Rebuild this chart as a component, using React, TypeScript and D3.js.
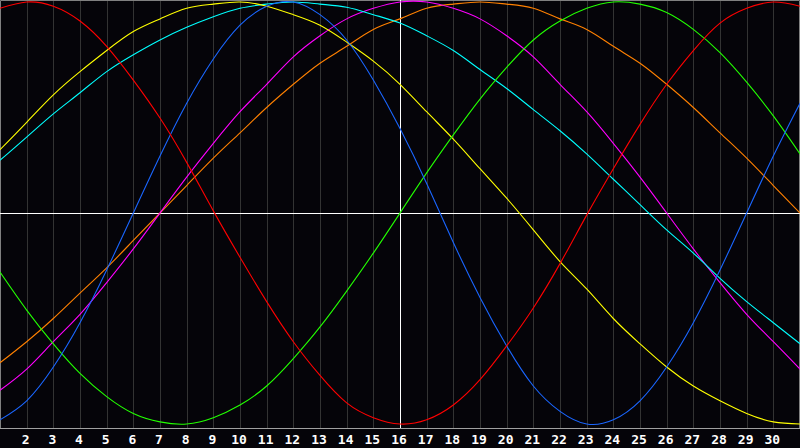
import React, { useEffect, useRef } from "react";
import * as d3 from "d3";

const days = d3.range(1, 32);
const tickDays = d3.range(2, 31);
const today = 16;

const red = [0.97, 1.0, 0.98, 0.91, 0.79, 0.63, 0.45, 0.24, 0.01, -0.21, -0.42, -0.61, -0.77, -0.9, -0.97, -1.0, -0.98, -0.91, -0.79, -0.63, -0.45, -0.24, -0.01, 0.21, 0.42, 0.61, 0.77, 0.9, 0.97, 1.0, 0.98];
const blue = [-0.98, -0.89, -0.73, -0.52, -0.27, 0.0, 0.27, 0.52, 0.73, 0.89, 0.98, 1.0, 0.94, 0.82, 0.63, 0.4, 0.14, -0.14, -0.4, -0.63, -0.82, -0.94, -1.0, -0.98, -0.89, -0.73, -0.52, -0.27, 0.0, 0.27, 0.52];
const green = [-0.28, -0.46, -0.62, -0.76, -0.87, -0.95, -0.99, -1.0, -0.97, -0.91, -0.82, -0.69, -0.54, -0.37, -0.19, 0.0, 0.19, 0.37, 0.54, 0.69, 0.82, 0.91, 0.97, 1.0, 0.99, 0.95, 0.87, 0.76, 0.62, 0.46, 0.28];
const yellow = [0.3, 0.43, 0.56, 0.67, 0.77, 0.86, 0.92, 0.97, 0.99, 1.0, 0.98, 0.94, 0.89, 0.81, 0.72, 0.61, 0.48, 0.35, 0.21, 0.07, -0.08, -0.23, -0.36, -0.5, -0.62, -0.73, -0.82, -0.89, -0.95, -0.99, -1.0];
const cyan = [0.25, 0.36, 0.47, 0.57, 0.67, 0.75, 0.82, 0.88, 0.93, 0.97, 0.99, 1.0, 0.99, 0.975, 0.94, 0.9, 0.84, 0.77, 0.68, 0.59, 0.49, 0.39, 0.28, 0.16, 0.04, -0.08, -0.19, -0.31, -0.42, -0.52, -0.62];
const magenta = [-0.84, -0.74, -0.61, -0.48, -0.33, -0.17, 0.0, 0.17, 0.33, 0.48, 0.61, 0.74, 0.84, 0.92, 0.97, 1.0, 1.0, 0.97, 0.92, 0.84, 0.74, 0.61, 0.48, 0.33, 0.17, 0.0, -0.17, -0.33, -0.48, -0.61, -0.74];
const orange = [-0.71, -0.61, -0.5, -0.38, -0.26, -0.13, 0.0, 0.13, 0.26, 0.38, 0.5, 0.61, 0.71, 0.79, 0.87, 0.92, 0.97, 0.99, 1.0, 0.99, 0.97, 0.92, 0.87, 0.79, 0.71, 0.61, 0.5, 0.38, 0.26, 0.13, 0.0];

const series = [
  { values: orange, color: "#ff8000" },
  { values: magenta, color: "#ff00ff" },
  { values: cyan, color: "#00ffff" },
  { values: yellow, color: "#ffff00" },
  { values: green, color: "#22ff00" },
  { values: blue, color: "#1a66ff" },
  { values: red, color: "#ff0000" },
];

const W = 800;
const H = 448;
const plotBottom = 428;

function App() {
  const ref = useRef<SVGSVGElement>(null);

  useEffect(() => {
    const svg = d3.select(ref.current);
    svg.selectAll("*").remove();

    const x = d3.scaleLinear().domain([1, 31]).range([0, W]);
    const y = d3.scaleLinear().domain([-1, 1]).range([424, 2]);

    svg
      .append("rect")
      .attr("width", W)
      .attr("height", H)
      .attr("fill", "#050409");

    // day grid
    svg
      .append("g")
      .selectAll("line")
      .data(tickDays)
      .join("line")
      .attr("x1", (d) => Math.round(x(d)) + 0.5)
      .attr("x2", (d) => Math.round(x(d)) + 0.5)
      .attr("y1", 0)
      .attr("y2", plotBottom)
      .attr("stroke", "#333333")
      .attr("stroke-width", 1);

    // frame
    svg
      .append("path")
      .attr("d", `M0.5,${plotBottom} V0.5 H${W - 0.5} V${plotBottom}`)
      .attr("fill", "none")
      .attr("stroke", "#808080");

    // zero line and today
    svg
      .append("line")
      .attr("x1", 0)
      .attr("x2", W)
      .attr("y1", Math.round(y(0)) + 0.5)
      .attr("y2", Math.round(y(0)) + 0.5)
      .attr("stroke", "#ffffff");
    svg
      .append("line")
      .attr("x1", Math.round(x(today)) + 0.5)
      .attr("x2", Math.round(x(today)) + 0.5)
      .attr("y1", 0)
      .attr("y2", plotBottom)
      .attr("stroke", "#ffffff");

    const line = d3
      .line<number>()
      .x((_, i) => x(days[i]))
      .y((d) => y(d))
      .curve(d3.curveNatural);

    svg
      .append("g")
      .selectAll("path")
      .data(series)
      .join("path")
      .attr("d", (s) => line(s.values))
      .attr("fill", "none")
      .attr("stroke", (s) => s.color)
      .attr("stroke-width", 1.1);

    // bottom axis
    svg
      .append("line")
      .attr("x1", 0)
      .attr("x2", W)
      .attr("y1", plotBottom + 0.5)
      .attr("y2", plotBottom + 0.5)
      .attr("stroke", "#a0a0a0");

    svg
      .append("g")
      .selectAll("text")
      .data(tickDays)
      .join("text")
      .attr("x", (d) => x(d) - 1)
      .attr("y", 444)
      .attr("text-anchor", "middle")
      .attr("fill", "#ffffff")
      .attr("font-family", "DejaVu Sans Mono")
      .attr("font-weight", "bold")
      .attr("font-size", 13)
      .text((d) => d);
  }, []);

  return (
    <div style={{ position: "absolute", left: 0, top: 0 }}>
      <svg ref={ref} width={W} height={H} style={{ display: "block" }} />
    </div>
  );
}

export default App;
